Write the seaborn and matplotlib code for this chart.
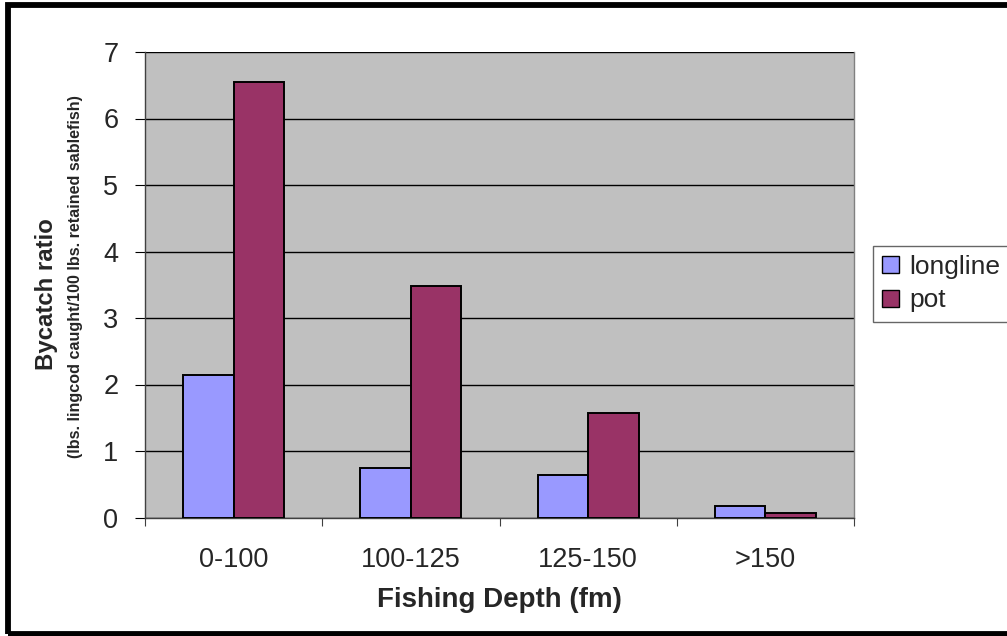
import matplotlib
matplotlib.use("Agg")
import matplotlib.pyplot as plt
from matplotlib.patches import Rectangle, Patch
from matplotlib.ticker import FixedLocator
import pandas as pd
import seaborn as sns

# Bycatch ratio by fishing depth and gear type
depths = ["0-100", "100-125", "125-150", ">150"]
longline = [2.15, 0.74, 0.64, 0.17]
pot = [6.55, 3.48, 1.57, 0.07]
gears = ["longline", "pot"]
colors = ["#9999FF", "#993366"]

df = pd.DataFrame({
    "depth": depths * 2,
    "ratio": longline + pot,
    "gear": [gears[0]] * len(depths) + [gears[1]] * len(depths),
})

sns.set_style("white")
plt.rcParams["font.family"] = ["Liberation Sans", "DejaVu Sans"]

W, H = 1007, 636
fig = plt.figure(figsize=(W / 100, H / 100), dpi=100)
fig.patch.set_facecolor("white")

ax = fig.add_axes([145 / W, 1 - 517.5 / H, (854 - 145) / W, (517.5 - 52) / H])
ax.set_facecolor("#C0C0C0")

sns.barplot(data=df, x="depth", y="ratio", hue="gear", order=depths,
            hue_order=gears, palette=colors, saturation=1, width=0.57,
            edgecolor="black", linewidth=1.4, ax=ax, legend=False, zorder=3)

ax.set_xlim(-0.5, len(depths) - 0.5)
ax.set_ylim(0, 7)
ax.set_yticks(range(0, 8))
ax.yaxis.grid(True, color="black", linewidth=1.0, zorder=1)
ax.set_axisbelow(True)

ax.spines["top"].set_visible(False)
ax.spines["right"].set_visible(True)
ax.spines["right"].set_color("#808080")
ax.spines["right"].set_linewidth(1.0)
ax.spines["left"].set_visible(True)
ax.spines["left"].set_color("#404040")
ax.spines["left"].set_linewidth(1.0)
ax.spines["bottom"].set_visible(True)
ax.spines["bottom"].set_color("#404040")
ax.spines["bottom"].set_linewidth(1.0)

ax.tick_params(axis="y", which="major", direction="out", length=7.2, width=0.8,
               color="black", labelsize=19.5, pad=12, left=True)
ax.xaxis.set_minor_locator(FixedLocator([i - 0.5 for i in range(len(depths) + 1)]))
ax.tick_params(axis="x", which="minor", direction="out", length=5.5, width=0.8,
               color="#404040", bottom=True)
ax.tick_params(axis="x", which="major", length=0, labelsize=19.5, pad=21)
ax.set_xlabel("")
ax.set_ylabel("")

fig.text(0.5 * (145 + 854) / W, 1 - 600 / H, "Fishing Depth (fm)",
         ha="center", va="center", fontsize=20, fontweight="bold")
fig.text(47 / W, 1 - 294 / H, "Bycatch ratio", rotation=90,
         ha="center", va="center", fontsize=17.3, fontweight="bold")
fig.text(76 / W, 1 - 277 / H, "(lbs. lingcod caught/100 lbs. retained sablefish)",
         rotation=90, ha="center", va="center", fontsize=11.6, fontweight="bold")

handles = [Patch(facecolor=c, edgecolor="black", linewidth=1.0) for c in colors]
leg = fig.legend(handles, gears, loc="upper left",
                 bbox_to_anchor=(873 / W, 1 - 246 / H), fontsize=19,
                 frameon=True, fancybox=False, edgecolor="#404040",
                 handlelength=0.62, handleheight=0.62, handletextpad=0.4,
                 borderpad=0.35, labelspacing=0.35, borderaxespad=0)
leg.get_frame().set_linewidth(1.0)

# Outer black frame, running past the right edge of the canvas
frame = Rectangle((7.5 / W, 2 / H), (W + 20) / W, (H - 6.5) / H,
                  transform=fig.transFigure, fill=False, edgecolor="black",
                  linewidth=4.2, clip_on=False)
fig.patches.append(frame)

fig.savefig("out.png", dpi=100, facecolor="white")
